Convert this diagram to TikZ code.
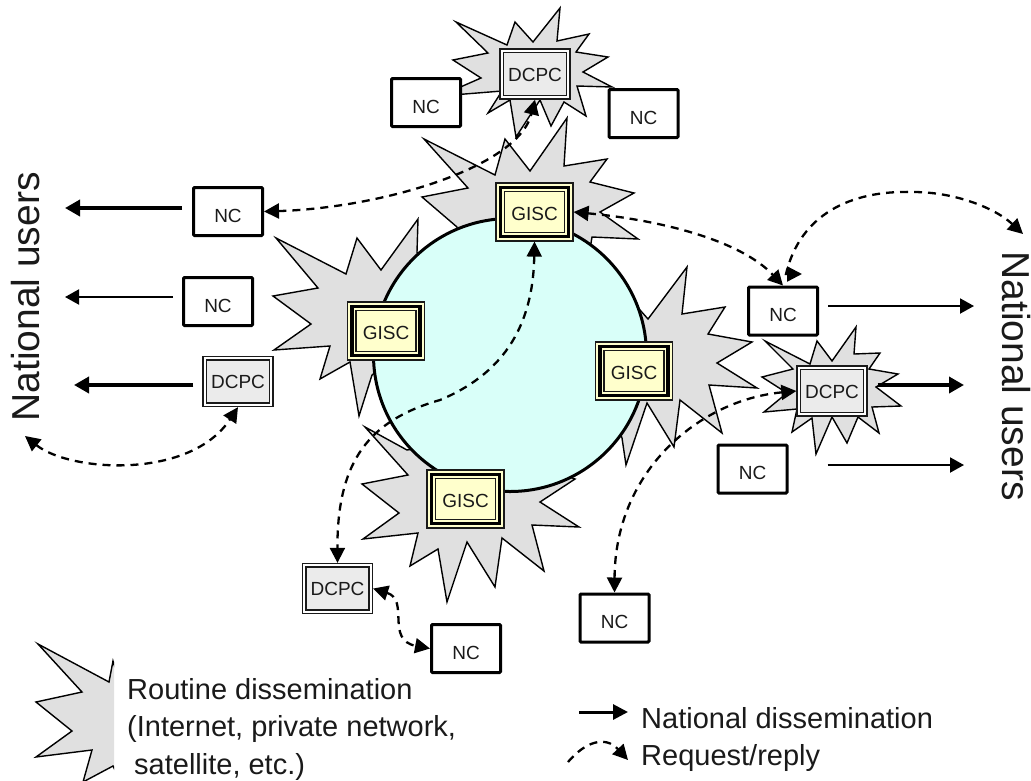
\documentclass[tikz,border=0pt]{standalone}
\usepackage{fontspec}
\setmainfont{Liberation Sans}
\usetikzlibrary{arrows.meta}
\definecolor{stargrey}{HTML}{E0E0E0}
\definecolor{ringfill}{HTML}{D9FFF9}
\definecolor{gisccol}{HTML}{FFFFCC}
\definecolor{dcpccol}{HTML}{EBEBEB}
\definecolor{ink}{HTML}{1A1A1A}
\tikzset{
  star/.style={draw=black,fill=stargrey,line width=1.4pt,line join=miter,miter limit=20},
  boxtext/.style={font=\fontsize{19}{23}\selectfont,text=ink,inner sep=0pt},
  ncbox/.style={boxtext,draw=black,fill=white,line width=3pt,rounded corners=1pt,minimum width=69pt,minimum height=48pt,text height=21pt,text depth=0pt},
  dcpcbox/.style={boxtext,draw=ink,fill=white,line width=1.3pt,minimum width=70pt,minimum height=50pt,text height=14pt,text depth=0pt,
    path picture={
      \fill[dcpccol,draw=ink,line width=1.5pt] ([shift={(3.5,3.5)}]path picture bounding box.north west) rectangle ([shift={(-3.5,-3.5)}]path picture bounding box.south east);
    }},
  giscbox/.style={boxtext,draw=ink,fill=gisccol,line width=1.2pt,minimum width=77pt,minimum height=58pt,text height=17pt,text depth=0pt,
    path picture={
      \draw[black,line width=3.2pt] ([shift={(4.5,4.5)}]path picture bounding box.north west) rectangle ([shift={(-4.5,-4.5)}]path picture bounding box.south east);
      \draw[ink,line width=1.3pt] ([shift={(8.5,8.5)}]path picture bounding box.north west) rectangle ([shift={(-8.5,-8.5)}]path picture bounding box.south east);
    }},
  reqline/.style={line width=2.3pt,dash pattern=on 8pt off 6pt,-{Triangle[length=15pt,width=15pt]}},
  reqboth/.style={line width=2.3pt,dash pattern=on 8pt off 6pt,{Triangle[length=15pt,width=15pt]}-{Triangle[length=15pt,width=15pt]}},
  thinflow/.style={line width=2pt,-{Triangle[length=14pt,width=15pt]}},
  thickflow/.style={line width=3.6pt,-{Triangle[length=15pt,width=16pt]}},
  bigtext/.style={font=\fontsize{39}{44}\selectfont,text=ink,inner sep=0pt},
  legendtext/.style={font=\fontsize{29}{37.5}\selectfont,text=ink,inner sep=0pt,align=left},
}
\begin{document}
\begin{tikzpicture}[x=1pt,y=-1pt]
\useasboundingbox (0,0) rectangle (1031,780);
% legend star
\begin{scope}
\clip (0,630) rectangle (114,780);
\draw[star] (38,644)--(109,682)--(113,661)--(125,700)--(125,790)--(113,766)--(83,782)--(92,750)--(36,757)--(72,731)--(36,702)--(82,692)--cycle;
\end{scope}
% stars
\draw[star] (456,22)--(507,45)--(515,22)--(533,42)--(560,8)--(557,41)--(589,34)--(576,52)--(608,57)--(583,72)--(612,87)--(577,86)--(586,116)--(564,102)--(551,126)--(540,100)--(516,137)--(510,100)--(488,113)--(502,91)--(440,96)--(481,78)--(453,60)--(488,53)--cycle;
\draw[star] (424,139)--(495,175)--(505,139)--(530,171)--(567,118)--(564,166)--(607,159)--(590,182)--(634,193)--(600,212)--(638,239)--(592,237)--(585,280)--(460,280)--(457,227)--(422,197)--(468,188)--cycle;
\draw[star] (418,219)--(417,252)--(430,330)--(372,375)--(359,416)--(350,362)--(320,379)--(330,346)--(274,350)--(311,324)--(273,296)--(318,288)--(276,238)--(346,274)--(357,238)--(381,270)--cycle;
\draw[star] (648,319)--(687,267)--(682,314)--(725,307)--(708,334)--(752,342)--(717,363)--(757,388)--(709,385)--(722,433)--(680,400)--(674,447)--(647,403)--(626,465)--(622,438)--(600,380)--(640,310)--cycle;
\draw[star] (365,427)--(407,450)--(470,440)--(575,479)--(540,502)--(579,527)--(532,525)--(544,571)--(502,538)--(495,587)--(467,542)--(447,602)--(438,549)--(410,566)--(418,533)--(363,539)--(399,513)--(362,484)--(408,475)--cycle;
\draw[star] (765,341)--(810,364)--(817,341)--(832,361)--(856,327)--(854,354)--(880,353)--(869,369)--(898,374)--(876,387)--(901,406)--(872,407)--(879,433)--(858,417)--(847,443)--(832,417)--(816,454)--(812,418)--(792,432)--(797,409)--(764,412)--(787,393)--(762,377)--(793,369)--cycle;
% ring
\node[draw=black,fill=ringfill,line width=3pt,circle,minimum size=273pt,inner sep=0pt] (ring) at (510,355) {};
% boxes
\node[ncbox] (nctl) at (426,102.5) {NC};
\node[ncbox] (nctr) at (643.5,113.5) {NC};
\node[dcpcbox] (dct) at (535,74) {DCPC};
\node[giscbox] (gt) at (534.5,212) {GISC};
\node[giscbox] (gl) at (386,331) {GISC};
\node[giscbox] (gr) at (634,371) {GISC};
\node[giscbox] (gb) at (465.5,499) {GISC};
\node[ncbox] (nl1) at (228,211.5) {NC};
\node[ncbox] (nl2) at (218,301.5) {NC};
\node[dcpcbox] (dl) at (238,381.5) {DCPC};
\node[ncbox] (nr1) at (783,311) {NC};
\node[dcpcbox] (dr) at (832,391) {DCPC};
\node[ncbox] (nr2) at (752.5,469) {NC};
\node[ncbox] (nbr) at (614.5,618) {NC};
\node[dcpcbox] (dcb) at (337.5,588.5) {DCPC};
\node[ncbox] (nb) at (466,648.5) {NC};
% free ends
\coordinate (uL1) at (65,208);
\coordinate (uL2) at (65,297);
\coordinate (uL3) at (74,385);
\coordinate (uR1) at (974,306);
\coordinate (uR2) at (964,385);
\coordinate (uR3) at (964,465);
\coordinate (uLb) at (25,436);
\coordinate (uRt) at (1023,234);
\coordinate (nrtail) at (802,274);
\coordinate (nrbend) at (786,274);
\coordinate (lgA) at (579,712);
\coordinate (lgB) at (628,712);
\coordinate (lgC) at (568,762);
\coordinate (lgD) at (628,760);
% national flows
\draw[thickflow] ([shift={(-10,-3.5)}]nl1.west) -- (uL1);
\draw[thinflow] ([shift={(-9,-4.5)}]nl2.west) -- (uL2);
\draw[thickflow] ([shift={(-9,3.5)}]dl.west) -- (uL3);
\draw[thinflow] ([shift={(9,-5)}]nr1.east) -- (uR1);
\draw[thickflow] ([shift={(10,-6)}]dr.east) -- (uR2);
\draw[thinflow] ([shift={(39,-4)}]nr2.east) -- (uR3);
% request/reply
\draw[reqboth] (nl1.east) .. controls (380,208) and (518,168) .. (dct.south);
\draw[reqboth] (gt.east) .. controls (660,220) and (740,240) .. (nr1.north);
\draw[reqboth] (nrtail) -- (nrbend) .. controls (800,215) and (850,190) .. (913,192) .. controls (955,192) and (995,208) .. (uRt);
\draw[reqboth] (gt.south) .. controls (533,330) and (500,375) .. (440,400) .. controls (370,420) and (337,460) .. (dcb.north);
\draw[reqboth] (uLb) .. controls (70,472) and (190,480) .. (dl.south);
\draw[reqboth] (dr.west) .. controls (700,400) and (615,470) .. (nbr.north);
\draw[reqboth] (dcb.east) .. controls (410,600) and (385,640) .. (nb.west);
% big labels
\node[bigtext,rotate=90] (natl) at (26,297) {National users};
\node[bigtext,rotate=-90] (natr) at (1016,376) {National users};
% legend
\node[legendtext,anchor=north west] (lgR) at (127,678) {Routine dissemination\\(Internet, private network,\\\hspace*{7pt}satellite, etc.)};
\draw[line width=3pt,-{Triangle[length=15pt,width=15pt]}] (lgA) -- (lgB);
\draw[reqline] (lgC) .. controls (585,742) and (605,735) .. (lgD);
\node[legendtext,anchor=base west] (lgN) at (641,728) {National dissemination};
\node[legendtext,anchor=base west] (lgQ) at (641,765) {Request/reply};
\end{tikzpicture}
\end{document}
